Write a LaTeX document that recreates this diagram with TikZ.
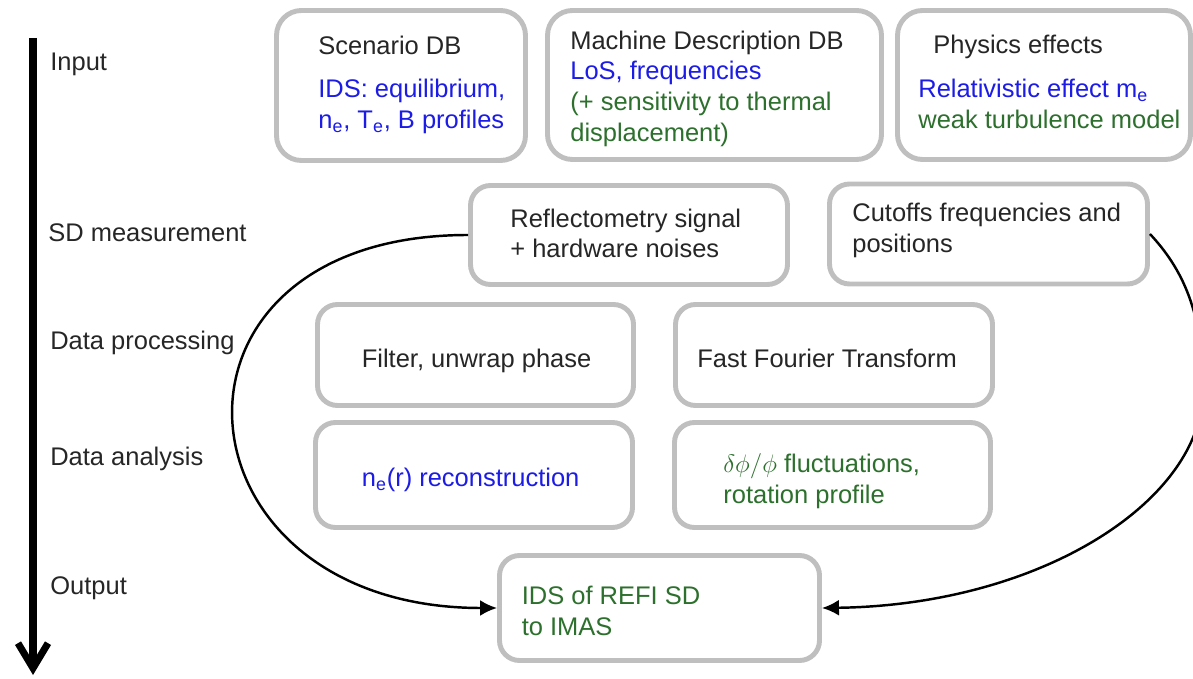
\documentclass[tikz,border=0pt]{standalone}
\usepackage{fontspec}
\setmainfont{Liberation Sans}
\usetikzlibrary{arrows.meta}
\definecolor{boxgray}{RGB}{191,191,191}
\definecolor{txtgray}{RGB}{38,38,38}
\definecolor{txtblue}{RGB}{28,28,230}
\definecolor{txtgreen}{RGB}{45,112,45}

\begin{document}
\begin{tikzpicture}[
    every node/.style={font=\fontsize{14.5}{17.5}\selectfont, text=txtgray},
    stage/.style={draw=boxgray, line width=2.8pt, rounded corners=0.4cm, fill=white},
    txt/.style={anchor=base west, inner sep=0pt, align=left},
    flow/.style={line width=1.4pt, -{Latex[length=3.4mm,width=3.2mm]}}
  ]
  \useasboundingbox (0,0) rectangle (23.86,13.56);
  \clip (0,0) rectangle (23.86,13.56);

  \coordinate (axtop) at (0.66,12.8);
  \coordinate (axbot) at (0.66,0.06);
  \draw[line width=4pt, -{Straight Barb[length=5mm,width=6mm]}] (axtop) -- (axbot);

  \node[txt] (lblin) at (1.0,12.14) {Input};
  \node[txt] (lblsd) at (0.96,8.73) {SD measurement};
  \node[txt] (lbldp) at (1.0,6.56) {Data processing};
  \node[txt] (lblda) at (1.0,4.25) {Data analysis};
  \node[txt] (lblout) at (1.0,1.66) {Output};

  \node[stage, rounded corners=0.5cm, minimum width=4.98cm, minimum height=3.0cm] (scen) at (8.02,11.85) {};
  \node[stage, rounded corners=0.5cm, minimum width=6.68cm, minimum height=2.98cm] (mach) at (14.29,11.86) {};
  \node[stage, rounded corners=0.5cm, minimum width=5.86cm, minimum height=2.98cm] (phys) at (20.88,11.86) {};
  \node[stage, minimum width=6.34cm, minimum height=1.98cm] (refl) at (12.58,8.86) {};
  \node[stage, minimum width=6.36cm, minimum height=2.0cm] (cut) at (19.77,8.88) {};
  \node[stage, minimum width=6.32cm, minimum height=2.02cm] (filt) at (9.51,6.46) {};
  \node[stage, minimum width=6.34cm, minimum height=2.02cm] (fft) at (16.68,6.46) {};
  \node[stage, minimum width=6.34cm, minimum height=2.1cm] (ne) at (9.48,4.06) {};
  \node[stage, minimum width=6.32cm, minimum height=2.1cm] (dphi) at (16.65,4.06) {};
  \node[stage, minimum width=6.4cm, minimum height=2.1cm] (ids) at (13.19,1.40) {};

  \node[txt] (scenhd) at (6.36,12.46) {Scenario DB};
  \node[txt, text=txtblue] (scentx) at (6.36,10.99) {IDS: equilibrium,\\n\textsubscript{e}, T\textsubscript{e}, B profiles};
  \node[txt] (machtx) at (11.40,10.73) {Machine Description DB\\\textcolor{txtblue}{LoS, frequencies}\\\textcolor{txtgreen}{(+ sensitivity to thermal}\\\textcolor{txtgreen}{displacement)}};
  \node[txt] (physhd) at (18.66,12.49) {Physics effects};
  \node[txt, text=txtblue] (phystx) at (18.36,10.99) {Relativistic effect m\textsubscript{e}\\\textcolor{txtgreen}{weak turbulence model}};
  \node[txt] (refltx) at (10.2,8.40) {Reflectometry signal\\+ hardware noises};
  \node[txt] (cuttx) at (17.04,8.51) {Cutoffs frequencies and\\positions};
  \node[txt] (filttx) at (7.23,6.20) {Filter, unwrap phase};
  \node[txt] (ffttx) at (13.94,6.20) {Fast Fourier Transform};
  \node[txt, text=txtblue] (netx) at (7.23,3.82) {n\textsubscript{e}(r) reconstruction};
  \node[txt, text=txtgreen] (dphitx) at (14.46,3.49) {$\delta\phi/\phi$ fluctuations,\\rotation profile};
  \node[txt, text=txtgreen] (idstx) at (10.43,0.86) {IDS of REFI SD\\to IMAS};

  \coordinate (bend) at (24.06,5.76);
  \draw[flow] (refl.west) .. controls +(-6.62,0) and +(-6.62,0) .. (ids.west);
  \draw[flow] (cut.east) .. controls +(0.75,-0.8) and +(0,1.4) .. (bend) .. controls +(0,-2.2) and +(4.4,0.06) .. (ids.east);
\end{tikzpicture}
\end{document}
